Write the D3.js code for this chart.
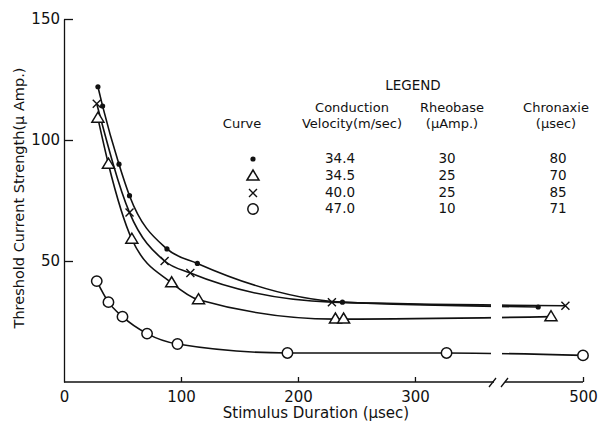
<!DOCTYPE html>
<html>
<head>
<meta charset="utf-8">
<script src="https://cdn.jsdelivr.net/npm/d3@7"></script>
<style>
  body { margin: 0; background: #fff; }
  text { font-family: "DejaVu Sans", sans-serif; fill: #111; }
  .curve { fill: none; stroke: #111; stroke-width: 1.6; }
  .axis-line { fill: none; stroke: #111; stroke-width: 1.3; }
</style>
</head>
<body>
<div id="wrapper"></div>
<script>

// 1. Data

// stimulus duration (usec) / threshold current (uAmp) for each curve
const dotPoints = [[29, 122], [33, 114], [47, 90], [56, 77], [88, 55], [114, 49], [238, 33], [444, 31]];
const trianglePoints = [[29, 109], [38, 90], [58, 59], [92, 41], [115, 34], [232, 26], [239, 26], [460, 27]];
const crossPoints = [[28, 115], [56, 70], [86, 50], [108, 45], [229, 33], [478, 31.5]];
const circlePoints = [[28, 41.7], [38, 33], [50, 27], [71, 20], [97, 15.7], [191, 12], [327, 12], [500, 11]];

const xTicks = [0, 100, 200, 300, 500];
const yTicks = [50, 100, 150];

const legendHeader = ["Curve", "Conduction", "Rheobase", "Chronaxie"];
const legendUnits = ["", "Velocity(m/sec)", "(\u00b5Amp.)", "(\u00b5sec)"];
const legendSymbols = ["dot", "triangle", "cross", "circle"];
const velocities = ["34.4", "34.5", "40.0", "47.0"];
const rheobases = ["30", "25", "25", "10"];
const chronaxies = ["80", "70", "85", "71"];

const series = [
  { symbol: "dot", points: dotPoints },
  { symbol: "triangle", points: trianglePoints },
  { symbol: "cross", points: crossPoints },
  { symbol: "circle", points: circlePoints },
];


// 2. Dimensions

const dimensions = {
  width: 602,
  height: 429,
  x0: 64,
  y0: 382,
  yTop: 19,
  breakLeft: 491,
  breakRight: 502,
  xEnd: 583,
};


// 3. Canvas

const wrapper = d3.select("#wrapper")
  .append("svg")
    .attr("width", dimensions.width)
    .attr("height", dimensions.height);


// 4. Scales
// the axis is broken between 365 and 400, the part after the break is squeezed
const xScale = d3.scaleLinear()
  .domain([0, 365, 400, 500])
  .range([dimensions.x0, dimensions.breakLeft, dimensions.breakRight + 1, dimensions.xEnd]);

const yScale = d3.scaleLinear()
  .domain([0, 150])
  .range([dimensions.y0, dimensions.yTop]);


// 5. Draw data

// clip out the gap at the axis break
const clip = wrapper.append("defs").append("clipPath").attr("id", "break-clip");
clip.append("rect")
    .attr("x", 0).attr("y", 0)
    .attr("width", dimensions.breakLeft).attr("height", dimensions.height);
clip.append("rect")
    .attr("x", dimensions.breakRight).attr("y", 0)
    .attr("width", dimensions.width - dimensions.breakRight).attr("height", dimensions.height);

const lineGenerator = d3.line()
  .x(d => xScale(d[0]))
  .y(d => yScale(d[1]))
  .curve(d3.curveMonotoneX);

const linesGroup = wrapper.append("g").attr("clip-path", "url(#break-clip)");
linesGroup.selectAll(".curve")
  .data(series)
  .join("path")
    .attr("class", "curve")
    .attr("d", d => lineGenerator(d.points));

function drawSymbol(g, symbol) {
  if (symbol === "dot") {
    g.append("circle").attr("r", 2.6).attr("fill", "#111");
  } else if (symbol === "circle") {
    g.append("circle").attr("r", 5.2)
      .attr("fill", "#fff").attr("stroke", "#111").attr("stroke-width", 1.5);
  } else if (symbol === "triangle") {
    g.append("path").attr("d", "M-6,4 L0,-6 L6,4 Z")
      .attr("fill", "#fff").attr("stroke", "#111").attr("stroke-width", 1.5)
      .attr("stroke-linejoin", "miter");
  } else if (symbol === "cross") {
    g.append("path").attr("d", "M-4,-4 L4,4 M-4,4 L4,-4")
      .attr("stroke", "#111").attr("stroke-width", 1.4);
  }
}

const markersGroup = wrapper.append("g");
series.forEach(s => {
  s.points.forEach(p => {
    const g = markersGroup.append("g")
        .attr("transform", `translate(${xScale(p[0])}, ${yScale(p[1])})`);
    drawSymbol(g, s.symbol);
  });
});


// 6. Peripherals

// x axis (ticks inside, drawn with a break)
const xAxis = d3.axisBottom(xScale)
  .tickValues(xTicks)
  .tickSizeInner(-5)
  .tickSizeOuter(0)
  .tickPadding(9);

const xAxisGroup = wrapper.append("g")
    .attr("transform", `translate(0, ${dimensions.y0})`)
    .call(xAxis);
xAxisGroup.select(".domain").remove();
xAxisGroup.selectAll(".tick line").attr("stroke", "#111").attr("stroke-width", 1.3);
xAxisGroup.selectAll(".tick line").filter(d => d === 0).remove();
xAxisGroup.selectAll(".tick text")
    .style("font-family", "DejaVu Sans, sans-serif")
    .style("font-size", "15px")
    .attr("fill", "#111");

xAxisGroup.append("path")
    .attr("class", "axis-line")
    .attr("d", `M${dimensions.x0},0 H${dimensions.breakLeft + 3}`);
xAxisGroup.append("path")
    .attr("class", "axis-line")
    .attr("d", `M${dimensions.breakRight + 3},0 H${dimensions.xEnd}`);
// break slashes
xAxisGroup.append("path")
    .attr("class", "axis-line")
    .attr("d", `M${dimensions.breakLeft - 2},5 L${dimensions.breakLeft + 5},-4`
      + ` M${dimensions.breakRight - 1},5 L${dimensions.breakRight + 6},-4`);

// y axis (ticks inside)
const yAxis = d3.axisLeft(yScale)
  .tickValues(yTicks)
  .tickSizeInner(-9)
  .tickSizeOuter(0)
  .tickPadding(4);

const yAxisGroup = wrapper.append("g")
    .attr("transform", `translate(${dimensions.x0}, 0)`)
    .call(yAxis);
yAxisGroup.select(".domain")
    .attr("stroke", "#111").attr("stroke-width", 1.3);
yAxisGroup.selectAll(".tick line").attr("stroke", "#111").attr("stroke-width", 1.3);
yAxisGroup.selectAll(".tick text")
    .style("font-family", "DejaVu Sans, sans-serif")
    .style("font-size", "15px")
    .attr("fill", "#111");

// axis titles
wrapper.append("text")
    .attr("x", 316)
    .attr("y", 418)
    .attr("text-anchor", "middle")
    .style("font-size", "15px")
    .text("Stimulus Duration (\u00b5sec)");

wrapper.append("text")
    .attr("transform", "translate(24, 198) rotate(-90)")
    .attr("text-anchor", "middle")
    .style("font-size", "14.5px")
    .text("Threshold Current Strength(\u00b5 Amp.)");

// legend table
const legend = wrapper.append("g");
const columnX = [253, 352, 452, 556];
const rowY = [163, 180, 197, 213];

legend.append("text")
    .attr("x", 413).attr("y", 90)
    .attr("text-anchor", "middle")
    .style("font-size", "13.5px")
    .text("LEGEND");

legend.selectAll(".legend-head")
  .data(legendHeader)
  .join("text")
    .attr("class", "legend-head")
    .attr("x", (_d, i) => i === 0 ? 242 : columnX[i])
    .attr("y", (_d, i) => i === 0 ? 128 : 112)
    .attr("text-anchor", "middle")
    .style("font-size", "13px")
    .text(d => d);

legend.selectAll(".legend-unit")
  .data(legendUnits)
  .join("text")
    .attr("class", "legend-unit")
    .attr("x", (_d, i) => columnX[i])
    .attr("y", 128)
    .attr("text-anchor", "middle")
    .style("font-size", "13px")
    .text(d => d);

legendSymbols.forEach((symbol, i) => {
  const g = legend.append("g")
      .attr("transform", `translate(${columnX[0]}, ${rowY[i] - 4})`);
  drawSymbol(g, symbol);
  [velocities, rheobases, chronaxies].forEach((col, j) => {
    legend.append("text")
        .attr("x", [340, 447, 558][j])
        .attr("y", rowY[i])
        .attr("text-anchor", "middle")
        .style("font-size", "13.5px")
        .text(col[i]);
  });
});

</script>
</body>
</html>
